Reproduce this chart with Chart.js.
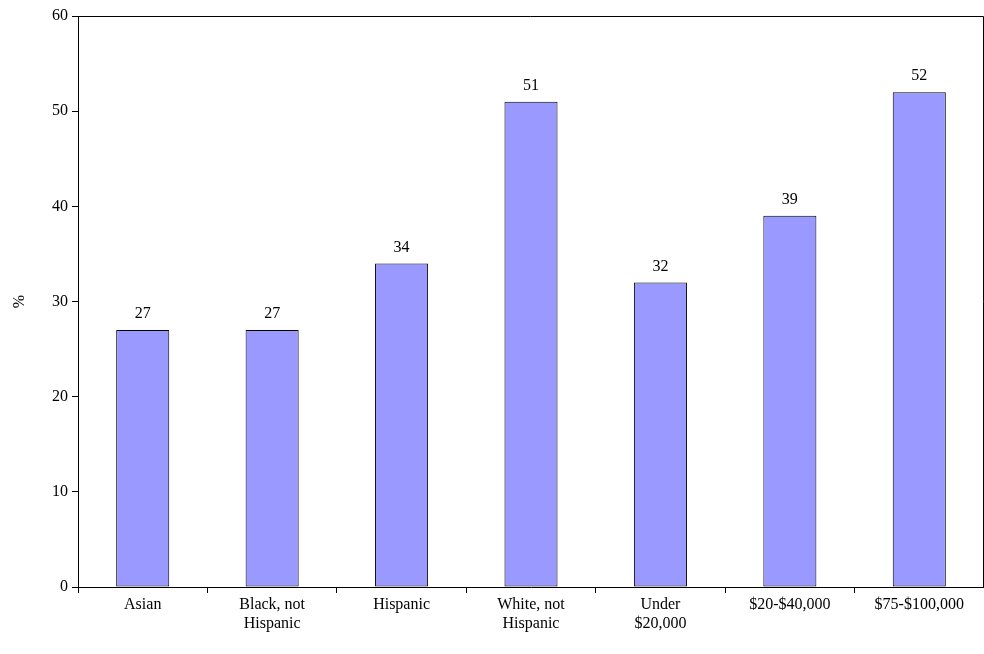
<!DOCTYPE html>
<html><head><meta charset="utf-8">
<script src="https://cdn.jsdelivr.net/npm/chart.js@4/dist/chart.umd.min.js"></script>
<style>html,body{margin:0;padding:0;background:#fff}#w{width:984px;height:654px}</style>
</head><body><div id="w"><canvas id="c"></canvas></div>
<script>
const categories=[["Asian"],["Black, not","Hispanic"],["Hispanic"],["White, not","Hispanic"],["Under","$20,000"],["$20-$40,000"],["$75-$100,000"]];
const values=[27,27,34,51,32,39,52];
const yTicks=[0,10,20,30,40,50,60];
const F='"Liberation Serif", "Times New Roman", serif';
const frame={id:'frame',afterDatasetsDraw(ch){const c=ch.ctx,a=ch.chartArea;c.save();c.strokeStyle='#000';c.lineWidth=1;
c.beginPath();c.moveTo(a.left,a.top+0.5);c.lineTo(a.right-0.5,a.top+0.5);c.lineTo(a.right-0.5,a.bottom);c.stroke();
c.fillStyle='#000';c.font='16px '+F;c.textAlign='center';c.textBaseline='bottom';
ch.getDatasetMeta(0).data.forEach((b,i)=>c.fillText(values[i],b.x,b.y-8));c.restore();}};
new Chart(document.getElementById('c'),{type:'bar',
data:{labels:categories,datasets:[{data:values,backgroundColor:'#9999ff',borderColor:'#000',borderWidth:1,borderSkipped:false,barPercentage:0.41,categoryPercentage:1}]},
options:{responsive:true,maintainAspectRatio:false,animation:false,
layout:{padding:{top:16,right:0}},
plugins:{legend:{display:false},tooltip:{enabled:false}},
scales:{
x:{afterFit(s){s.height=67},grid:{offset:true,drawOnChartArea:false,tickLength:6,color:'#000'},border:{color:'#000'},
ticks:{color:'#000',font:{family:F,size:16},maxRotation:0,autoSkip:false,padding:2}},
y:{min:0,max:60,afterFit(s){s.width=78},afterBuildTicks(s){s.ticks=yTicks.map(v=>({value:v}))},
grid:{drawOnChartArea:false,tickLength:6,color:'#000'},border:{color:'#000'},
ticks:{color:'#000',font:{family:F,size:16},padding:4},
title:{display:true,text:'%',color:'#000',font:{family:F,size:16},padding:{top:10,bottom:0}}}}},
plugins:[frame]});
</script></body></html>
